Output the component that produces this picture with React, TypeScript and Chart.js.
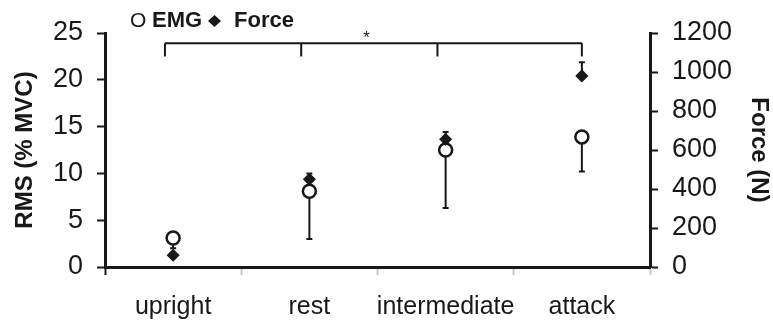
import React, { useEffect, useRef } from 'react';
import { Chart, registerables } from 'chart.js';

Chart.register(...registerables);

// ---- data ----
const categories = ['upright', 'rest', 'intermediate', 'attack'];
const emgLabel = 'EMG';
const forceLabel = 'Force';
const emgMean = [3.1, 8.1, 12.5, 13.9];
const emgLower = [2.0, 3.0, 6.3, 10.2];
const forceMean = [60, 450, 655, 980];
const forceUpper = [60, 480, 692, 1050];
const bracketCats = [-0.06, 0.94, 1.94, 3.0];
const bracketLevel = 23.9;
const bracketDrop = 22.5;
const starCat = 1.42;
const starLabel = '*';

const INK = '#1a1718';
const FONT = '"Liberation Sans", Arial, sans-serif';

const errorBars = {
  id: 'errorBars',
  beforeDatasetsDraw(chart: any) {
    const { ctx, scales } = chart;
    const x = scales.x, y = scales.y, y1 = scales.y1;
    ctx.save();
    ctx.strokeStyle = INK;
    ctx.lineWidth = 2;
    const cap = 3;
    categories.forEach((_, i) => {
      const px = x.getPixelForValue(i);
      if (emgLower[i] < emgMean[i]) {
        const a = y.getPixelForValue(emgMean[i]);
        const b = y.getPixelForValue(emgLower[i]);
        ctx.beginPath();
        ctx.moveTo(px, a); ctx.lineTo(px, b);
        ctx.moveTo(px - cap, b); ctx.lineTo(px + cap, b);
        ctx.stroke();
      }
      if (forceUpper[i] > forceMean[i]) {
        const a = y1.getPixelForValue(forceMean[i]);
        const b = y1.getPixelForValue(forceUpper[i]);
        ctx.beginPath();
        ctx.moveTo(px, a); ctx.lineTo(px, b);
        ctx.moveTo(px - cap, b); ctx.lineTo(px + cap, b);
        ctx.stroke();
      }
    });
    ctx.restore();
  },
  afterDraw(chart: any) {
    const { ctx, scales } = chart;
    const x = scales.x, y = scales.y;
    ctx.save();
    ctx.strokeStyle = INK;
    ctx.lineWidth = 2;
    const yl = y.getPixelForValue(bracketLevel);
    const yd = y.getPixelForValue(bracketDrop);
    const xs = bracketCats.map((c) => x.getPixelForValue(c));
    ctx.beginPath();
    ctx.moveTo(xs[0], yl); ctx.lineTo(xs[xs.length - 1], yl);
    xs.forEach((px) => { ctx.moveTo(px, yl); ctx.lineTo(px, yd); });
    ctx.stroke();
    ctx.fillStyle = INK;
    ctx.font = `17px ${FONT}`;
    ctx.textAlign = 'center';
    ctx.textBaseline = 'middle';
    ctx.fillText(starLabel, x.getPixelForValue(starCat), yl - 5);

    // legend
    ctx.textAlign = 'left';
    ctx.textBaseline = 'middle';
    ctx.font = `21px ${FONT}`;
    ctx.fillText('O', 130, 21);
    ctx.font = `bold 22px ${FONT}`;
    ctx.fillText(emgLabel, 152, 21);
    ctx.beginPath();
    ctx.moveTo(214.5, 15); ctx.lineTo(221, 21); ctx.lineTo(214.5, 27); ctx.lineTo(208, 21);
    ctx.closePath();
    ctx.fill();
    ctx.fillText(forceLabel, 234, 21);
    ctx.restore();
  },
};

export default function App() {
  const ref = useRef<HTMLCanvasElement>(null);
  useEffect(() => {
    document.body.style.margin = '0';
    const edgeTick = (c: any) => (c.index === 0 || c.index === categories.length ? INK : '#c8c8c8');
    const chart = new Chart(ref.current!, {
      type: 'line',
      data: {
        labels: categories,
        datasets: [
          {
            label: forceLabel,
            data: forceMean,
            yAxisID: 'y1',
            showLine: false,
            pointStyle: 'rectRot',
            pointRadius: 5.5,
            pointBorderWidth: 1.5,
            backgroundColor: INK,
            borderColor: INK,
            order: 0,
          },
          {
            label: emgLabel,
            data: emgMean,
            yAxisID: 'y',
            showLine: false,
            pointStyle: 'circle',
            pointRadius: 6.5,
            pointBorderWidth: 2.5,
            backgroundColor: '#ffffff',
            borderColor: INK,
            order: 1,
          },
        ],
      },
      options: {
        responsive: false,
        animation: false,
        layout: { padding: { top: 33, left: 0, right: 0, bottom: 0 } },
        plugins: { legend: { display: false }, tooltip: { enabled: false } },
        scales: {
          x: {
            offset: true,
            grid: { offset: true, drawOnChartArea: false, tickLength: 8, tickColor: edgeTick, tickWidth: 2 },
            border: { color: INK, width: 3 },
            ticks: {
              color: INK,
              padding: 17,
              maxRotation: 0,
              minRotation: 0,
              autoSkip: false,
              font: { family: FONT, size: 25 },
            },
            afterFit: (s: any) => { s.height = 54; },
          },
          y: {
            position: 'left',
            min: 0,
            max: 25,
            ticks: {
              stepSize: 5,
              color: INK,
              padding: 14,
              font: { family: FONT, size: 27 },
            },
            grid: { drawOnChartArea: false, tickLength: 8, tickColor: INK, tickWidth: 2 },
            border: { color: INK, width: 3 },
            title: {
              display: true,
              text: 'RMS (% MVC)',
              color: INK,
              padding: { top: 11, bottom: 0 },
              font: { family: FONT, size: 24, weight: 'bold' },
            },
            afterFit: (s: any) => { s.width = 105; },
          },
          y1: {
            position: 'right',
            min: 0,
            max: 1200,
            ticks: {
              stepSize: 200,
              color: INK,
              padding: 14,
              callback: (v: any) => String(v),
              font: { family: FONT, size: 27 },
            },
            grid: { drawOnChartArea: false, tickLength: 8, tickColor: INK, tickWidth: 2 },
            border: { color: INK, width: 3 },
            title: {
              display: true,
              text: 'Force (N)',
              color: INK,
              padding: { top: 0, bottom: 0 },
              font: { family: FONT, size: 24, weight: 'bold' },
            },
            afterFit: (s: any) => { s.width = 123; },
          },
        },
      },
      plugins: [errorBars],
    } as any);
    return () => chart.destroy();
  }, []);
  return (
    <div style={{ position: 'fixed', left: 0, top: 0, width: 773, height: 321 }}>
      <canvas ref={ref} width={773} height={321} />
    </div>
  );
}
